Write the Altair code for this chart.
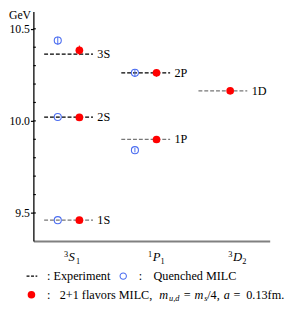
import altair as alt
import pandas as pd

# ---- data ----
states = ["1S", "2S", "3S", "1P", "2P", "1D"]
category = [1, 1, 1, 2, 2, 3]          # 1 = 3S1, 2 = 1P1, 3 = 3D2
experiment = [9.461, 10.021, 10.362, 9.899, 10.261, 10.163]
exp_color = ["#777777", "black", "black", "#777777", "black", "#777777"]
quenched = [9.461, 10.021, 10.436, 9.841, 10.261, None]
quenched_err = [0.0, 0.0, 0.021, 0.012, 0.02, None]
milc = [9.461, 10.019, 10.383, 9.899, 10.261, 10.163]
milc_err = [0.0, 0.0, 0.026, 0.0, 0.02, 0.008]
red_offset = [0.14, 0.14, 0.14, 0.14, 0.14, 0.095]

y_major = [9.5, 10.0, 10.5]
y_minor = [9.5, 9.6, 9.7, 9.8, 9.9, 10.0, 10.1, 10.2, 10.3, 10.4, 10.5]

cat_sup = ["3", "1", "3"]
cat_letter = ["S", "P", "D"]
cat_sub = ["1", "1", "2"]
cat_label_x = [1.0, 2.09, 3.13]
cat_letter_w = [7.5, 8, 9.5]

FONT = "Liberation Serif"
W, H = 242, 235
UNIT = 79.0
xs = alt.Scale(domain=[0.544, 0.544 + W / UNIT], nice=False, zero=False)
ys = alt.Scale(domain=[9.348, 10.594], nice=False, zero=False)

X_AX = alt.Axis(labels=False, ticks=False, grid=False, title=None, domainColor="#808080", domainWidth=2)
Y_AX = alt.Axis(values=y_major, format=".1f", tickSize=3, labelPadding=1, labelFont=FONT, labelFontSize=12,
                labelColor="black", tickColor="black", tickWidth=1.2, domainColor="black",
                domainWidth=1.3, grid=False, title=None)


def X(f):
    return alt.X(f, scale=xs, axis=X_AX)


def Y(f):
    return alt.Y(f, scale=ys, axis=Y_AX)


df = pd.DataFrame({
    "state": states, "cat": category, "exp": experiment, "col": exp_color,
    "q": quenched, "qe": quenched_err, "m": milc, "me": milc_err, "ro": red_offset,
})
df["xl"] = df["cat"] - 25 / UNIT
df["xr"] = df["cat"] + 25 / UNIT
df["xq"] = df["cat"] - 0.14
df["xm"] = df["cat"] + df["ro"]
df["q_lo"] = df["q"] - df["qe"]
df["q_hi"] = df["q"] + df["qe"]
df["m_lo"] = df["m"] - df["me"]
df["m_hi"] = df["m"] + df["me"]
dq = df.dropna(subset=["q"])

BLUE = "#4a6cf0"
RED = "#ff0000"

exp_lines = alt.Chart(df).mark_rule(strokeDash=[4, 2], strokeWidth=1.3).encode(
    x=X("xl:Q"), x2="xr:Q", y=Y("exp:Q"), color=alt.Color("col:N", scale=None),
)

minor = alt.Chart(pd.DataFrame({"v": y_minor})).mark_rule(color="black", strokeWidth=1.2).encode(
    y=Y("v:Q"), x=alt.value(0), x2=alt.value(2.5)
)

q_err = alt.Chart(dq[dq["qe"] > 0]).mark_rule(color=BLUE, strokeWidth=1).encode(
    x=X("xq:Q"), y=Y("q_lo:Q"), y2="q_hi:Q"
)
q_pts = alt.Chart(dq).mark_point(shape="circle", filled=False, color=BLUE, size=52, strokeWidth=1.1, opacity=1).encode(
    x=X("xq:Q"), y=Y("q:Q")
)
m_err = alt.Chart(df[df["me"] > 0]).mark_rule(color=RED, strokeWidth=1).encode(
    x=X("xm:Q"), y=Y("m_lo:Q"), y2="m_hi:Q"
)
m_pts = alt.Chart(df).mark_point(shape="circle", filled=True, color=RED, size=62, opacity=1).encode(
    x=X("xm:Q"), y=Y("m:Q")
)
state_lbl = alt.Chart(df).mark_text(align="left", baseline="middle", dx=29.5, font=FONT, fontSize=12.5,
                                    color="black").encode(
    x=X("cat:Q"), y=Y("exp:Q"), text="state:N"
)

# category labels (3S1, 1P1, 3D2)
dc = pd.DataFrame({"sup": cat_sup, "let": cat_letter, "sub": cat_sub, "x": cat_label_x, "w": cat_letter_w})
dc["xs"] = dc["x"] + dc["w"] / UNIT
cat_sup_l = alt.Chart(dc).mark_text(align="right", baseline="alphabetic", dx=-0.5, font=FONT, fontSize=8.5,
                                    color="black").encode(
    x=X("x:Q"), y=alt.value(H + 16), text="sup:N")
cat_let_l = alt.Chart(dc).mark_text(align="left", baseline="alphabetic", font=FONT, fontSize=13,
                                    fontStyle="italic", color="black").encode(
    x=X("x:Q"), y=alt.value(H + 21), text="let:N")
cat_sub_l = alt.Chart(dc).mark_text(align="left", baseline="alphabetic", font=FONT, fontSize=8.5,
                                    color="black").encode(
    x=X("xs:Q"), y=alt.value(H + 24), text="sub:N")

layers = [exp_lines, minor, q_err, q_pts, m_err, m_pts, state_lbl, cat_sup_l, cat_let_l, cat_sub_l]


def txt(t, x, y, size=12.5, italic=False, align="left"):
    kw = dict(align=align, baseline="alphabetic", font=FONT, fontSize=size, color="black")
    if italic:
        kw["fontStyle"] = "italic"
    return alt.Chart(pd.DataFrame({"t": [t]})).mark_text(**kw).encode(
        x=alt.value(x), y=alt.value(y), text="t:N")


# GeV unit label
layers.append(txt("GeV", -25, 8, size=12))

# legend
L1, L2 = 275, 294
layers.append(alt.Chart(pd.DataFrame({"a": [0]})).mark_rule(color="black", strokeDash=[3, 1.6], strokeWidth=1.1).encode(
    x=alt.value(-7), x2=alt.value(4), y=alt.value(L1 - 4)))
layers.append(txt(": Experiment", 14, L1))
layers.append(alt.Chart(pd.DataFrame({"a": [0]})).mark_point(shape="circle", filled=False, color=BLUE, size=42,
                                                           strokeWidth=1.1, opacity=1).encode(
    x=alt.value(92), y=alt.value(L1 - 4)))
layers.append(txt(":", 108, L1))
layers.append(txt("Quenched MILC", 123, L1))
layers.append(alt.Chart(pd.DataFrame({"a": [0]})).mark_point(shape="circle", filled=True, color=RED, size=60,
                                                           opacity=1).encode(
    x=alt.value(-2), y=alt.value(L2 - 4)))
layers.append(txt(":", 14, L2))
layers.append(txt("2+1 flavors MILC,", 27, L2))
layers.append(txt("m", 129, L2, italic=True))
layers.append(txt("u,d", 139, L2 + 2.5, size=8.5, italic=True))
layers.append(txt("=", 154, L2))
layers.append(txt("m", 165, L2, italic=True))
layers.append(txt("s", 175, L2 + 2.5, size=8.5, italic=True))
layers.append(txt("/4,", 178, L2))
layers.append(txt("a", 195, L2, italic=True))
layers.append(txt("=", 205, L2))
layers.append(txt("0.13fm.", 218, L2))

chart = alt.layer(*layers).properties(
    width=W, height=H,
    autosize=alt.AutoSizeParams(type="none"),
    padding={"left": 26, "top": 0, "right": 30, "bottom": 62},
    background="white",
).configure_view(stroke=None)

chart.save("out.html", embed_options={"renderer": "svg", "actions": False})
